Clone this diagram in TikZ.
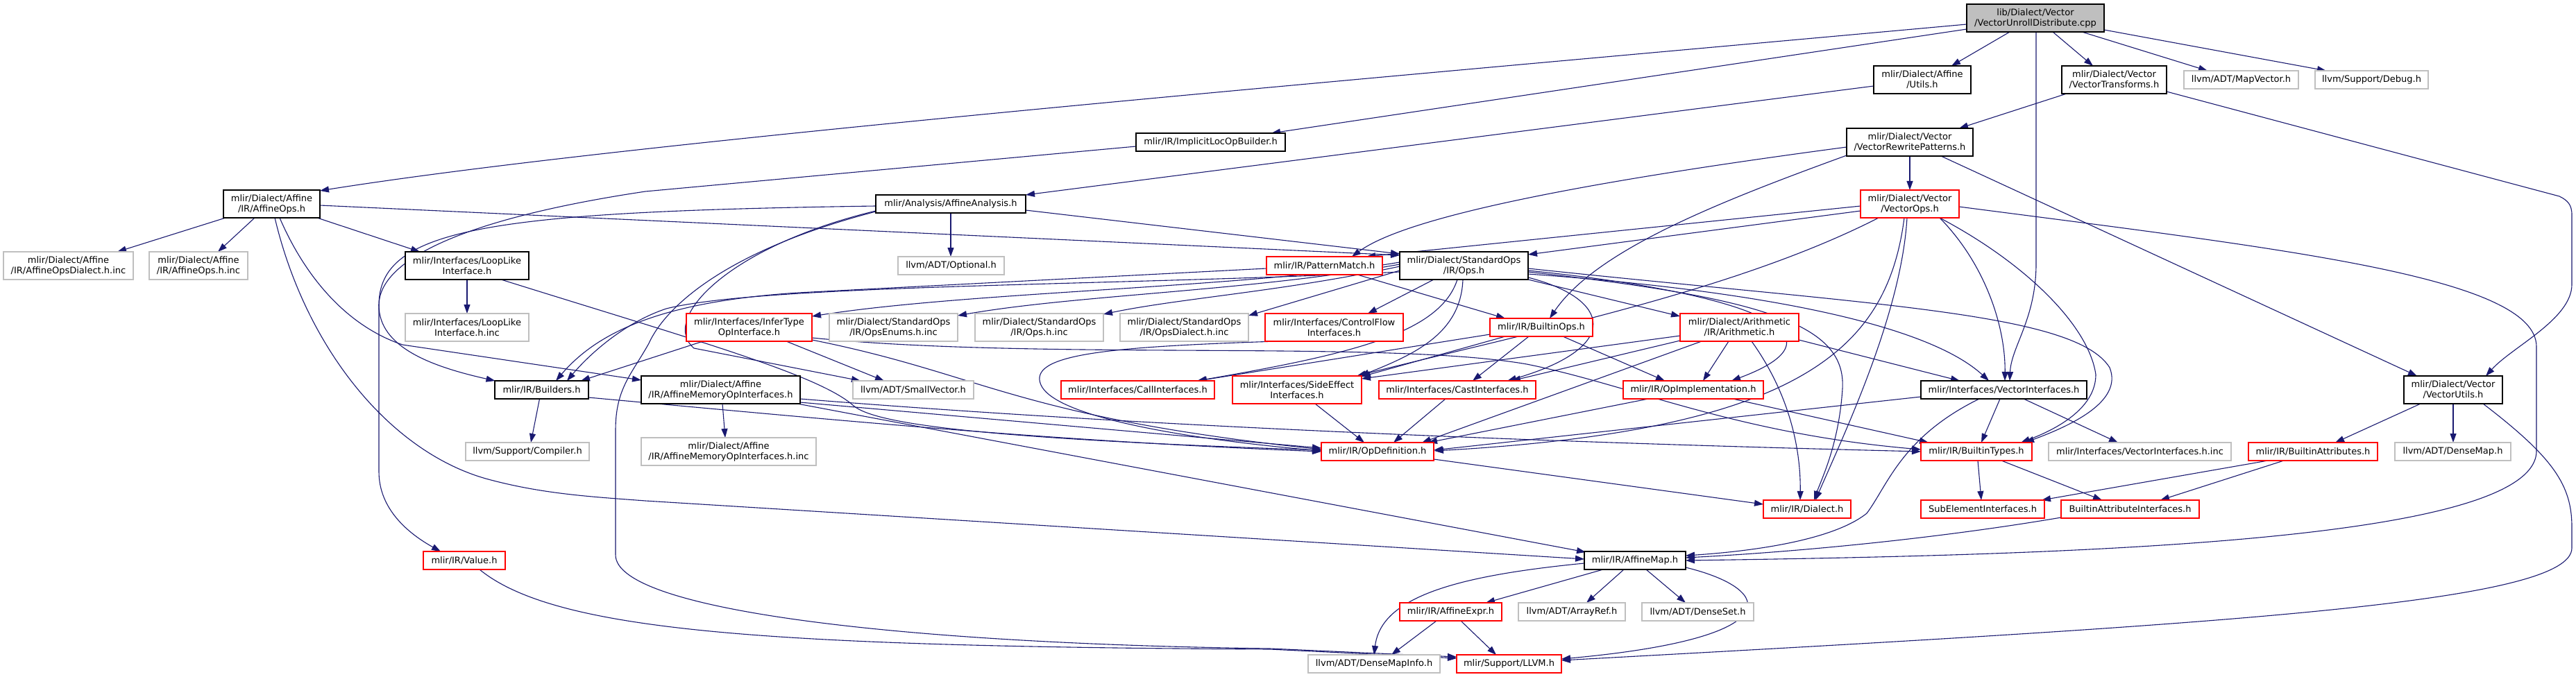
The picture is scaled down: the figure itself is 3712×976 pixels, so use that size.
\documentclass[tikz,border=0pt]{standalone}
\usepackage{fontspec}
\setmainfont{DejaVu Sans}
\usetikzlibrary{arrows.meta,calc}
\definecolor{edgeblue}{HTML}{191970}
\definecolor{greyline}{HTML}{BFBFBF}
\definecolor{rootfill}{HTML}{BFBFBF}
\pgfdeclarelayer{bg}
\pgfsetlayers{bg,main}
\tikzset{
  nbox/.style={rectangle, inner sep=0pt, align=center, fill=white, line width=1.2pt, font=\fontsize{13}{15}\selectfont, text=black},
  blk/.style={nbox, draw=black},
  rd/.style={nbox, draw=red},
  gr/.style={nbox, draw=greyline},
  sz/.style 2 args={minimum width=#1pt, minimum height=#2pt},
  e/.style={draw=edgeblue, line width=1.1pt, -{Triangle[length=13pt,width=9pt]}},
}
\begin{document}
\begin{tikzpicture}[x=1pt,y=-1pt]
\useasboundingbox (0,0) rectangle (3712,976);
% nodes
\node[blk,sz={198}{40},fill=rootfill] (cpp) at (2933,26) {lib/Dialect/Vector\\/VectorUnrollDistribute.cpp};
\node[blk,sz={139}{40}] (affops) at (391.5,294) {mlir/Dialect/Affine\\/IR/AffineOps.h};
\node[blk,sz={140}{40}] (autils) at (2770,115) {mlir/Dialect/Affine\\/Utils.h};
\node[blk,sz={151}{40}] (vtrans) at (3046.5,115) {mlir/Dialect/Vector\\/VectorTransforms.h};
\node[gr,sz={165}{26}] (mapvec) at (3229.5,115) {llvm/ADT/MapVector.h};
\node[gr,sz={163}{26}] (debug) at (3417.5,115) {llvm/Support/Debug.h};
\node[blk,sz={215}{26}] (implicit) at (1744.5,205) {mlir/IR/ImplicitLocOpBuilder.h};
\node[blk,sz={182}{40}] (vrp) at (2752,205) {mlir/Dialect/Vector\\/VectorRewritePatterns.h};
\node[blk,sz={216}{26}] (aanal) at (1370,294) {mlir/Analysis/AffineAnalysis.h};
\node[rd,sz={142}{40}] (vops) at (2752,294) {mlir/Dialect/Vector\\/VectorOps.h};
\node[gr,sz={187}{40}] (dialinc) at (98.5,383) {mlir/Dialect/Affine\\/IR/AffineOpsDialect.h.inc};
\node[gr,sz={142}{40}] (affinc) at (286,383) {mlir/Dialect/Affine\\/IR/AffineOps.h.inc};
\node[blk,sz={178}{40}] (looplike) at (673,383) {mlir/Interfaces/LoopLike\\Interface.h};
\node[gr,sz={153}{26}] (optional) at (1370.5,383) {llvm/ADT/Optional.h};
\node[rd,sz={167}{26}] (pmatch) at (1908.5,383) {mlir/IR/PatternMatch.h};
\node[blk,sz={185}{40}] (stdops) at (2109.5,383) {mlir/Dialect/StandardOps\\/IR/Ops.h};
\node[gr,sz={178}{40}] (loopinc) at (673,472) {mlir/Interfaces/LoopLike\\Interface.h.inc};
\node[rd,sz={181}{40}] (infer) at (1079.5,472) {mlir/Interfaces/InferType\\OpInterface.h};
\node[gr,sz={185}{40}] (opsenum) at (1287.5,472) {mlir/Dialect/StandardOps\\/IR/OpsEnums.h.inc};
\node[gr,sz={185}{40}] (opsinc) at (1497.5,472) {mlir/Dialect/StandardOps\\/IR/Ops.h.inc};
\node[gr,sz={185}{40}] (opsdial) at (1706.5,472) {mlir/Dialect/StandardOps\\/IR/OpsDialect.h.inc};
\node[rd,sz={199}{40}] (cflow) at (1922.5,472) {mlir/Interfaces/ControlFlow\\Interfaces.h};
\node[rd,sz={148}{26}] (bops) at (2221,472) {mlir/IR/BuiltinOps.h};
\node[rd,sz={171}{40}] (arith) at (2506.5,472) {mlir/Dialect/Arithmetic\\/IR/Arithmetic.h};
\node[blk,sz={135}{26}] (builders) at (780.5,562) {mlir/IR/Builders.h};
\node[blk,sz={229}{40}] (amem) at (1038.5,562) {mlir/Dialect/Affine\\/IR/AffineMemoryOpInterfaces.h};
\node[gr,sz={174}{26}] (smallvec) at (1316,562) {llvm/ADT/SmallVector.h};
\node[rd,sz={221}{26}] (call) at (1639.5,562) {mlir/Interfaces/CallInterfaces.h};
\node[rd,sz={186}{40}] (side) at (1869,562) {mlir/Interfaces/SideEffect\\Interfaces.h};
\node[rd,sz={226}{26}] (cast) at (2100,562) {mlir/Interfaces/CastInterfaces.h};
\node[rd,sz={202}{26}] (opimpl) at (2440,562) {mlir/IR/OpImplementation.h};
\node[blk,sz={239}{26}] (vint) at (2887.5,562) {mlir/Interfaces/VectorInterfaces.h};
\node[blk,sz={142}{40}] (vutils) at (3535,562) {mlir/Dialect/Vector\\/VectorUtils.h};
\node[gr,sz={178}{26}] (compiler) at (760,651) {llvm/Support/Compiler.h};
\node[gr,sz={252}{40}] (ameminc) at (1050,651) {mlir/Dialect/Affine\\/IR/AffineMemoryOpInterfaces.h.inc};
\node[rd,sz={162}{26}] (opdef) at (1985,651) {mlir/IR/OpDefinition.h};
\node[rd,sz={160}{26}] (btypes) at (2848,651) {mlir/IR/BuiltinTypes.h};
\node[gr,sz={263}{26}] (vintinc) at (3083.5,651) {mlir/Interfaces/VectorInterfaces.h.inc};
\node[rd,sz={186}{26}] (battr) at (3333,651) {mlir/IR/BuiltinAttributes.h};
\node[gr,sz={167}{26}] (densemap) at (3534.5,651) {llvm/ADT/DenseMap.h};
\node[rd,sz={126}{26}] (dialect) at (2604,734) {mlir/IR/Dialect.h};
\node[rd,sz={178}{26}] (subel) at (2857,734) {SubElementInterfaces.h};
\node[rd,sz={199}{26}] (battrint) at (3069.5,734) {BuiltinAttributeInterfaces.h};
\node[rd,sz={118}{26}] (value) at (669,808) {mlir/IR/Value.h};
\node[blk,sz={146}{26}] (amap) at (2356,808) {mlir/IR/AffineMap.h};
\node[rd,sz={147}{26}] (aexpr) at (2090.5,882) {mlir/IR/AffineExpr.h};
\node[gr,sz={154}{26}] (arrayref) at (2265,882) {llvm/ADT/ArrayRef.h};
\node[gr,sz={161}{26}] (denseset) at (2446.5,882) {llvm/ADT/DenseSet.h};
\node[gr,sz={190}{26}] (dmi) at (1980,957) {llvm/ADT/DenseMapInfo.h};
\node[rd,sz={151}{26}] (llvm) at (2174.5,957) {mlir/Support/LLVM.h};
\begin{pgfonlayer}{bg}
\fill[white] (0,0) rectangle (3712,976);
% root
\draw[e] ($(cpp)+(-99,9)$) .. controls (1900,120) and (900,205) .. ($(affops)+(69.5,-19)$);
\draw[e] ($(cpp)+(-99,16)$) -- ($(implicit)+(87.5,-13)$);
\draw[e] ($(cpp)+(-37,20)$) -- ($(autils)+(42,-20)$);
\draw[e] ($(cpp)+(25,20)$) -- ($(vtrans)+(-30.5,-20)$);
\draw[e] ($(cpp)+(67,20)$) -- ($(mapvec)+(-48.5,-13)$);
\draw[e] ($(cpp)+(99,17)$) -- ($(debug)+(-65.5,-13)$);
\draw[e] ($(cpp)+(1,20)$) -- (2934,380) .. controls (2934,460) and (2898,500) .. ($(vint)+(8.5,-13)$);
% second level
\draw[e] ($(autils)+(-70,9)$) -- ($(aanal)+(108,-13)$);
\draw[e] ($(vtrans)+(-68.5,20)$) -- ($(vrp)+(71,-20)$);
\draw[e] ($(vtrans)+(75.5,17)$) -- (3688,283) .. controls (3700,289) and (3706,295) .. (3706,310) -- (3706,410) .. controls (3706,460) and (3620,500) .. ($(vutils)+(47,-20)$);
\draw[e] ($(vrp)+(0,20)$) -- ($(vops)+(0,-20)$);
\draw[e] ($(vrp)+(45,20)$) -- ($(vutils)+(-52,-20)$);
\draw[e] ($(vrp)+(-91,7)$) .. controls (2300,260) and (2030,310) .. ($(pmatch)+(39.5,-13)$);
\draw[e] ($(vrp)+(-91,19)$) .. controls (2480,290) and (2300,360) .. ($(bops)+(12,-13)$);
\draw[e] ($(implicit)+(-107.5,6)$) -- (930,276) .. controls (650,318) and (546,380) .. (546,440) .. controls (546,500) and (620,528) .. ($(builders)+(-67,-13)$);
% affine analysis
\draw[e] ($(aanal)+(-108,3)$) .. controls (700,305) and (546,330) .. (546,440) -- (546,680) .. controls (546,735) and (590,770) .. ($(value)+(-34,-13)$);
\draw[e] ($(aanal)+(0,13)$) -- ($(optional)+(-0.5,-13)$);
\draw[e] ($(aanal)+(108,9)$) -- ($(stdops)+(-92.5,-17)$);
\draw[e] ($(aanal)+(-108,10)$) .. controls (1050,355) and (950,460) .. (1000,502) -- ($(smallvec)+(-76,-13)$);
\draw[e] ($(aanal)+(-108,11)$) .. controls (1050,360) and (960,440) .. (935,495) .. controls (910,540) and (887,560) .. (887,620) -- (887,800) .. controls (887,880) and (1300,928) .. (1830,935) -- ($(llvm)+(-75.5,-10)$);
\draw[e] ($(value)+(22,13)$) .. controls (800,910) and (1100,932) .. (1830,936) -- ($(llvm)+(-75.5,-8)$);
% affine ops
\draw[e] ($(affops)+(-66.5,20)$) -- ($(dialinc)+(70.5,-20)$);
\draw[e] ($(affops)+(-24.5,20)$) -- ($(affinc)+(28,-20)$);
\draw[e] ($(affops)+(65.5,20)$) -- ($(looplike)+(-68,-20)$);
\draw[e] ($(affops)+(11.5,20)$) .. controls (440,400) and (500,470) .. (580,497) -- ($(amem)+(-114.5,-14)$);
\draw[e] ($(affops)+(4.5,20)$) .. controls (440,500) and (560,650) .. (700,690) .. controls (780,712) and (850,716) .. (930,722) -- ($(amap)+(-73,-2)$);
\draw[e] ($(affops)+(69.5,2)$) -- ($(stdops)+(-92.5,-15)$);
\draw[e] ($(looplike)+(0,20)$) -- ($(loopinc)+(0,-20)$);
\draw[e] ($(looplike)+(49,20)$) .. controls (1000,490) and (1180,540) .. (1230,585) .. controls (1260,610) and (1400,632) .. ($(opdef)+(-81,-2)$);
\draw[e] ($(amem)+(2.5,20)$) -- ($(ameminc)+(-5,-20)$);
\draw[e] ($(amem)+(114.5,18)$) -- ($(opdef)+(-81,-5)$);
\draw[e] ($(amem)+(114.5,13)$) .. controls (1500,603) and (2000,632) .. ($(btypes)+(-80,0)$);
\draw[e] ($(amem)+(110.5,20)$) -- ($(amap)+(-71,-12)$);
% standard ops
\draw[e] ($(stdops)+(-92.5,-5)$) .. controls (1800,415) and (1400,420) .. ($(infer)+(90.5,-16)$);
\draw[e] ($(stdops)+(-92.5,-2)$) .. controls (1800,420) and (1550,425) .. ($(opsenum)+(92.5,-17)$);
\draw[e] ($(stdops)+(-92.5,1)$) .. controls (1850,420) and (1700,430) .. ($(opsinc)+(92.5,-19)$);
\draw[e] ($(stdops)+(-92.5,7)$) -- ($(opsdial)+(92.5,-17)$);
\draw[e] ($(stdops)+(-92.5,9)$) .. controls (1600,412) and (1100,410) .. (960,445) .. controls (900,465) and (850,510) .. ($(builders)+(36.5,-13)$);
\draw[e] ($(stdops)+(-43.5,20)$) -- ($(cflow)+(48.5,-20)$);
\draw[e] ($(stdops)+(-9.5,20)$) .. controls (2075,480) and (1950,510) .. ($(call)+(85.5,-13)$);
\draw[e] ($(stdops)+(-1.5,20)$) .. controls (2105,480) and (2040,510) .. ($(side)+(91,-20)$);
\draw[e] ($(stdops)+(92.5,20)$) -- ($(arith)+(-85.5,-16)$);
\draw[e] ($(stdops)+(92.5,17)$) .. controls (2320,430) and (2340,500) .. ($(cast)+(72,-13)$);
\draw[e] ($(stdops)+(92.5,7)$) .. controls (2500,420) and (2680,480) .. ($(opimpl)+(55,-13)$);
\draw[e] ($(stdops)+(92.5,9)$) .. controls (2550,430) and (2660,470) .. (2655,560) .. controls (2650,640) and (2625,690) .. ($(dialect)+(10,-13)$);
\draw[e] ($(stdops)+(92.5,12)$) .. controls (2550,420) and (2780,470) .. ($(vint)+(-21.5,-13)$);
\draw[e] ($(stdops)+(92.5,4)$) .. controls (2700,440) and (2990,450) .. (3040,530) .. controls (3060,580) and (2980,615) .. ($(btypes)+(70,-13)$);
% pattern match, infer, cflow
\draw[e] ($(pmatch)+(47.5,13)$) -- ($(bops)+(-52,-13)$);
\draw[e] ($(pmatch)+(-83.5,4)$) -- (1150,422) .. controls (950,435) and (860,480) .. ($(builders)+(20.5,-13)$);
\draw[e] ($(infer)+(-66.5,20)$) -- ($(builders)+(56.5,-13)$);
\draw[e] ($(infer)+(53.5,20)$) -- ($(smallvec)+(-42,-13)$);
\draw[e] ($(infer)+(90.5,18)$) .. controls (1420,540) and (1460,600) .. ($(opdef)+(-81,-3)$);
\draw[e] ($(infer)+(90.5,15)$) .. controls (1500,520) and (2000,490) .. (2200,525) .. controls (2350,555) and (2500,625) .. ($(btypes)+(-80,-3)$);
\draw[e] ($(cflow)+(-82.5,20)$) .. controls (1600,500) and (1480,510) .. (1500,555) .. controls (1520,600) and (1700,632) .. ($(opdef)+(-81,-1)$);
% builtin ops
\draw[e] ($(bops)+(-74,10)$) -- ($(call)+(86.5,-13)$);
\draw[e] ($(bops)+(-52,13)$) -- ($(side)+(93,-19)$);
\draw[e] ($(bops)+(-18,13)$) -- ($(cast)+(22,-13)$);
\draw[e] ($(bops)+(31,13)$) -- ($(opimpl)+(-41,-13)$);
% arithmetic
\draw[e] ($(arith)+(-85.5,12)$) -- ($(side)+(93,-16)$);
\draw[e] ($(arith)+(-85.5,19)$) -- ($(cast)+(78,-13)$);
\draw[e] ($(arith)+(-54.5,20)$) -- ($(opdef)+(64,-13)$);
\draw[e] ($(arith)+(-15.5,20)$) -- ($(opimpl)+(14,-13)$);
\draw[e] ($(arith)+(17.5,20)$) .. controls (2580,570) and (2595,650) .. ($(dialect)+(-10,-13)$);
\draw[e] ($(arith)+(85.5,18)$) -- ($(vint)+(-63.5,-13)$);
% vector ops
\draw[e] ($(vops)+(-71,3)$) -- ($(pmatch)+(60.5,-13)$);
\draw[e] ($(vops)+(-71,10)$) -- ($(stdops)+(92.5,-16)$);
\draw[e] ($(vops)+(-45,20)$) .. controls (2500,420) and (2200,480) .. ($(side)+(86,-20)$);
\draw[e] ($(vops)+(-8,20)$) .. controls (2720,500) and (2600,620) .. ($(opdef)+(82,-1)$);
\draw[e] ($(vops)+(-4,20)$) .. controls (2740,450) and (2660,620) .. ($(dialect)+(12,-13)$);
\draw[e] ($(vops)+(43,20)$) .. controls (2860,380) and (2890,470) .. ($(vint)+(1.5,-13)$);
\draw[e] ($(vops)+(43,20)$) .. controls (2920,380) and (3010,470) .. (3020,540) .. controls (3020,590) and (2960,620) .. ($(btypes)+(64,-13)$);
\draw[e] ($(vops)+(71,4)$) .. controls (3300,360) and (3655,400) .. (3655,500) -- (3655,650) .. controls (3655,780) and (3000,800) .. ($(amap)+(73,0)$);
% vector interfaces
\draw[e] ($(vint)+(-119.5,10)$) -- ($(opdef)+(81,-2)$);
\draw[e] ($(vint)+(-5.5,13)$) -- ($(btypes)+(7,-13)$);
\draw[e] ($(vint)+(28.5,13)$) -- ($(vintinc)+(-31.5,-13)$);
\draw[e] ($(vint)+(-35.5,13)$) .. controls (2740,630) and (2720,700) .. (2690,740) .. controls (2640,780) and (2520,795) .. ($(amap)+(73,-7)$);
% op impl, opdef, side, cast, builders
\draw[e] ($(opimpl)+(-65,13)$) -- ($(opdef)+(73,-13)$);
\draw[e] ($(opimpl)+(57,13)$) -- ($(btypes)+(-69,-13)$);
\draw[e] ($(opdef)+(81,11)$) -- ($(dialect)+(-63,-7)$);
\draw[e] ($(side)+(26,20)$) -- ($(opdef)+(-19,-13)$);
\draw[e] ($(cast)+(-17,13)$) -- ($(opdef)+(23,-13)$);
\draw[e] ($(builders)+(-3,13)$) -- ($(compiler)+(5,-13)$);
\draw[e] ($(builders)+(67.5,11)$) .. controls (1200,605) and (1500,635) .. ($(opdef)+(-81,0)$);
% builtin types, attributes
\draw[e] ($(btypes)+(2,13)$) -- ($(subel)+(-2,-13)$);
\draw[e] ($(btypes)+(36,13)$) -- ($(battrint)+(-40.5,-13)$);
\draw[e] ($(battr)+(-65,13)$) -- ($(subel)+(85,-13)$);
\draw[e] ($(battr)+(-42,13)$) -- ($(battrint)+(43.5,-13)$);
\draw[e] ($(battrint)+(-99.5,12)$) .. controls (2800,775) and (2600,795) .. ($(amap)+(73,-4)$);
% vector utils
\draw[e] ($(vutils)+(-47,20)$) -- ($(battr)+(32,-13)$);
\draw[e] ($(vutils)+(0,20)$) -- ($(densemap)+(0.5,-13)$);
\draw[e] ($(vutils)+(43,20)$) .. controls (3680,660) and (3706,700) .. (3706,760) -- (3706,790) .. controls (3706,870) and (3200,900) .. ($(llvm)+(75.5,-5)$);
% affine map
\draw[e] ($(amap)+(-46,13)$) -- ($(aexpr)+(50.5,-13)$);
\draw[e] ($(amap)+(-16,13)$) -- ($(arrayref)+(21,-13)$);
\draw[e] ($(amap)+(16,13)$) -- ($(denseset)+(-17.5,-13)$);
\draw[e] ($(amap)+(-73,4)$) .. controls (2100,830) and (1990,860) .. ($(dmi)+(0,-13)$);
\draw[e] ($(amap)+(73,10)$) .. controls (2560,850) and (2580,920) .. ($(llvm)+(75.5,-7)$);
\draw[e] ($(aexpr)+(-20.5,13)$) -- ($(dmi)+(25,-13)$);
\draw[e] ($(aexpr)+(14.5,13)$) -- ($(llvm)+(-18.5,-13)$);
\end{pgfonlayer}
\end{tikzpicture}
\end{document}
